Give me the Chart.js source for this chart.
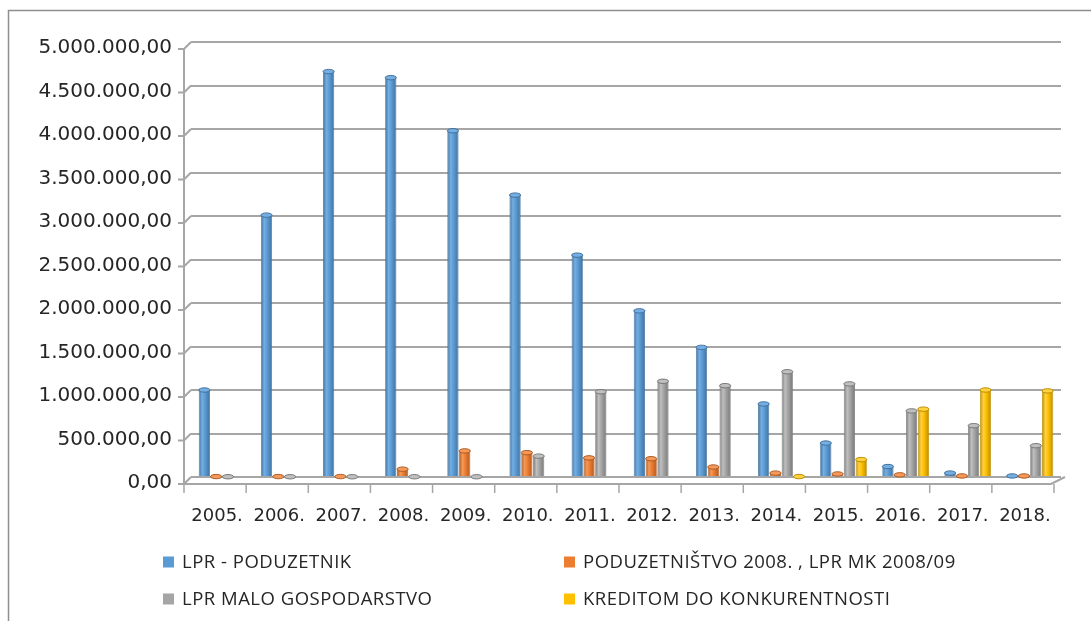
<!DOCTYPE html>
<html lang="hr">
<head>
<meta charset="UTF-8">
<title>LPR krediti po godinama</title>
<script src="https://cdn.jsdelivr.net/npm/chart.js"></script>
<style>
  html, body { margin: 0; padding: 0; background: #fff; }
  #wrap { width: 1091px; height: 621px; position: relative; }
</style>
</head>
<body>
<div id="wrap"><canvas id="chart" width="1091" height="621"></canvas></div>
<script>
// data
const years = ['2005.', '2006.', '2007.', '2008.', '2009.', '2010.', '2011.', '2012.', '2013.', '2014.', '2015.', '2016.', '2017.', '2018.'];
const lprPoduzetnik = [1000000, 3010000, 4660000, 4590000, 3980000, 3240000, 2550000, 1910000, 1490000, 840000, 390000, 120000, 45000, 12000];
const poduzetnistvo = [5000, 5000, 5000, 90000, 300000, 280000, 220000, 210000, 115000, 45000, 35000, 25000, 12000, 12000];
const maloGospodarstvo = [3000, 3000, 3000, 3000, 3000, 240000, 980000, 1100000, 1050000, 1210000, 1070000, 760000, 590000, 360000];
const kreditom = [0, 0, 0, 0, 0, 0, 0, 0, 0, 5000, 200000, 780000, 1000000, 990000];
const yTicks = { min: 0, max: 5000000, step: 500000 };

function fmt(v) {
    const s = Math.round(v).toString().replace(/\B(?=(\d{3})+(?!\d))/g, '.');
    return s + ',00';
}

const shades = {
    '#5B9BD5': ['#41719c', '#74aee2'],
    '#ED7D31': ['#ae5a21', '#f4995a'],
    '#A5A5A5': ['#787878', '#bfbfbf'],
    '#FFC000': ['#bc8c00', '#ffd23f']
};
const DX = 7, DY = 7;   // fake 3d depth offset
const GRID = '#a6a6a6';

// cylinder shading + top caps
const cylinders = {
    id: 'cylinders',
    beforeDatasetsDraw(chart) {
        const ctx = chart.ctx;
        chart.data.datasets.forEach((ds, di) => {
            const meta = chart.getDatasetMeta(di);
            const [dark, light] = shades[ds.baseColor];
            meta.data.forEach(el => {
                if (!el.width) return;
                const g = ctx.createLinearGradient(el.x - el.width / 2, 0, el.x + el.width / 2, 0);
                g.addColorStop(0, dark);
                g.addColorStop(0.3, light);
                g.addColorStop(0.55, ds.baseColor);
                g.addColorStop(1, dark);
                try { el.options.backgroundColor = g; } catch (e) {}
            });
        });
    },
    afterDatasetsDraw(chart) {
        const ctx = chart.ctx;
        chart.data.datasets.forEach((ds, di) => {
            const meta = chart.getDatasetMeta(di);
            const [dark, light] = shades[ds.baseColor];
            meta.data.forEach((el, i) => {
                if (!(ds.data[i] > 0)) return;
                ctx.save();
                ctx.beginPath();
                ctx.ellipse(el.x, el.y, el.width / 2, 2.2, 0, 0, Math.PI * 2);
                ctx.fillStyle = light;
                ctx.fill();
                ctx.lineWidth = 1;
                ctx.strokeStyle = dark;
                ctx.stroke();
                ctx.restore();
            });
        });
    }
};

// side wall, floor and the frame round the picture
const walls = {
    id: 'walls',
    beforeDatasetsDraw(chart) {
        const ctx = chart.ctx;
        const { left, right, bottom } = chart.chartArea;
        const y = chart.scales.y;
        ctx.save();
        ctx.strokeStyle = GRID;
        ctx.lineWidth = 2;
        // front vertical axis
        ctx.beginPath();
        ctx.moveTo(left - DX, y.getPixelForValue(yTicks.max) + DY);
        ctx.lineTo(left - DX, bottom + DY);
        ctx.stroke();
        // diagonals and tick marks
        y.ticks.forEach(t => {
            const py = y.getPixelForValue(t.value);
            ctx.beginPath();
            ctx.moveTo(left - DX - 6, py + DY);
            ctx.lineTo(left - DX, py + DY);
            ctx.lineTo(left, py);
            ctx.stroke();
        });
        // floor front edge
        ctx.beginPath();
        ctx.moveTo(left - DX, bottom + DY);
        ctx.lineTo(right - DX - 3, bottom + DY);
        ctx.lineTo(right + 4, bottom);
        ctx.stroke();
        // category ticks on the front edge
        ctx.lineWidth = 1.5;
        const n = years.length;
        const w = (right - left) / n;
        for (let i = 0; i <= n; i++) {
            const px = left + i * w - DX;
            ctx.beginPath();
            ctx.moveTo(px, bottom + DY);
            ctx.lineTo(px, bottom + DY + 9);
            ctx.stroke();
        }
        ctx.restore();
    },
    afterDraw(chart) {
        const ctx = chart.ctx;
        ctx.save();
        ctx.strokeStyle = '#8f8f8f';
        ctx.lineWidth = 1.5;
        ctx.beginPath();
        ctx.moveTo(8.5, chart.height);
        ctx.lineTo(8.5, 10.5);
        ctx.lineTo(chart.width, 10.5);
        ctx.stroke();
        ctx.restore();
    }
};

// two-column legend under the chart
const legendGrid = {
    id: 'legendGrid',
    afterDraw(chart) {
        const ctx = chart.ctx;
        const cols = [163, 564];
        const rows = [562, 599];
        ctx.save();
        ctx.font = '18.5px "Open Sans"';
        ctx.letterSpacing = '0.5px';
        ctx.textBaseline = 'middle';
        chart.data.datasets.forEach((ds, i) => {
            const bx = cols[i % 2], by = rows[Math.floor(i / 2)];
            ctx.fillStyle = ds.baseColor;
            ctx.fillRect(bx, by - 5.5, 11, 11);
            ctx.fillStyle = '#262626';
            ctx.fillText(ds.label, bx + 19, by + 1);
        });
        ctx.restore();
    }
};

function bars(label, data, color) {
    return {
        label: label,
        data: data,
        baseColor: color,
        backgroundColor: () => color,
        borderColor: shades[color][0],
        borderWidth: 0.8,
        categoryPercentage: 0.76,
        barPercentage: 0.95
    };
}

new Chart(document.getElementById('chart'), {
    type: 'bar',
    data: {
        labels: years,
        datasets: [
            bars('LPR - PODUZETNIK', lprPoduzetnik, '#5B9BD5'),
            bars('PODUZETNIŠTVO 2008. , LPR MK 2008/09', poduzetnistvo, '#ED7D31'),
            bars('LPR MALO GOSPODARSTVO', maloGospodarstvo, '#A5A5A5'),
            bars('KREDITOM DO KONKURENTNOSTI', kreditom, '#FFC000')
        ]
    },
    options: {
        responsive: false,
        animation: false,
        layout: { padding: { left: 0, right: 30, top: 42, bottom: 74 } },
        plugins: {
            legend: { display: false },
            tooltip: { enabled: false }
        },
        scales: {
            x: {
                afterFit: s => { s.height = 70; },
                grid: { display: false },
                border: { display: false },
                ticks: {
                    color: '#262626',
                    font: { family: 'DejaVu Sans', size: 18 },
                    padding: 21,
                    labelOffset: -5,
                    maxRotation: 0,
                    autoSkip: false
                }
            },
            y: {
                min: yTicks.min,
                max: yTicks.max,
                afterFit: s => { s.width = 191; },
                grid: { color: GRID, lineWidth: 2, drawTicks: false },
                border: { display: false },
                ticks: {
                    stepSize: yTicks.step,
                    color: '#262626',
                    font: { family: 'DejaVu Sans', size: 20 },
                    padding: 19,
                    labelOffset: 6,
                    callback: v => fmt(v)
                }
            }
        }
    },
    plugins: [walls, cylinders, legendGrid]
});
</script>
</body>
</html>
